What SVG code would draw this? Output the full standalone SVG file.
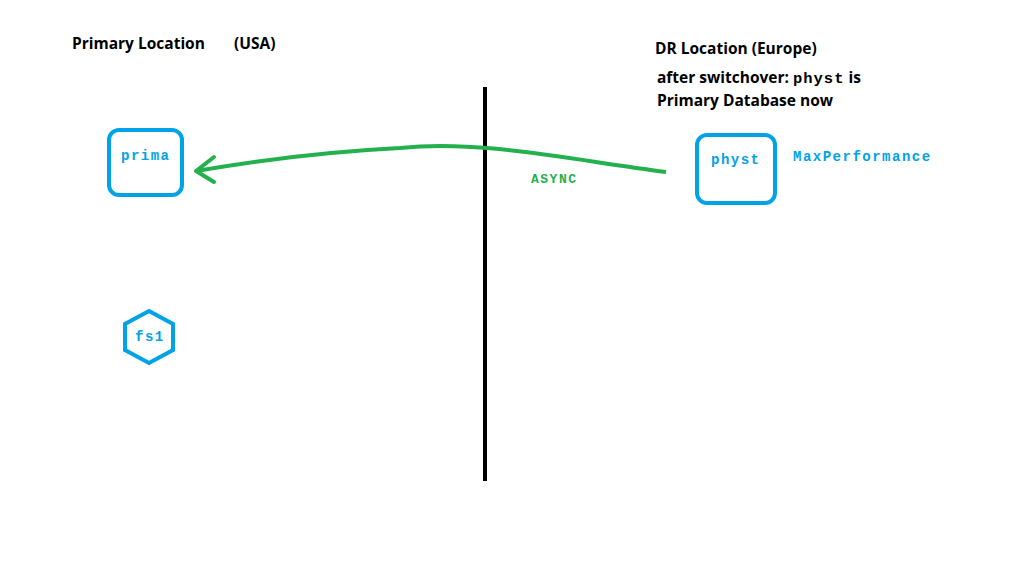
<svg xmlns="http://www.w3.org/2000/svg" width="1031" height="561" viewBox="0 0 1031 561">
<style>
.h{font-family:"Open Sans","Liberation Sans",sans-serif;font-weight:bold;font-size:15.5px;fill:#000}
.m{font-family:"Liberation Mono",monospace;font-weight:bold;font-size:14px;letter-spacing:1.5px;fill:#00a2e8}
.n{fill:#fff;stroke:#00a2e8;stroke-width:4}
</style>
<rect width="1031" height="561" fill="#fff"/>
<text class="h" x="72" y="49">Primary Location</text>
<text class="h" x="234" y="49">(USA)</text>
<text class="h" x="655" y="54">DR Location (Europe)</text>
<text class="h" x="657" y="83">after switchover: <tspan font-family="Liberation Mono,monospace" letter-spacing="1">physt</tspan> is</text>
<text class="h" x="657" y="106">Primary Database now</text>
<g id="connectors">
<line x1="485" y1="87" x2="485" y2="481" stroke="#000" stroke-width="4"/>
<path d="M666 172 C560 158 480 140 400 148 C320 152 260 160 196 171" fill="none" stroke="#22b14c" stroke-width="4"/>
<path d="M214 157 L196 171 L214 182" fill="none" stroke="#22b14c" stroke-width="4" stroke-linecap="round" stroke-linejoin="round"/>
<text x="531" y="183" font-family="Liberation Mono,monospace" font-weight="bold" font-size="13" letter-spacing="1.5" fill="#22b14c">ASYNC</text>
</g>
<g id="prima"><rect class="n" x="109" y="130" width="73" height="65" rx="10"/><text class="m" x="121" y="160">prima</text></g>
<g id="physt"><rect class="n" x="697" y="135" width="78" height="68" rx="10"/><text class="m" x="711" y="164">physt</text></g>
<g id="maxperf"><text class="m" x="793" y="161">MaxPerformance</text></g>
<g id="fs1"><polygon class="n" points="149,311 173,324 173,350 149,363 125,350 125,324"/><text class="m" x="135" y="341">fs1</text></g>
</svg>
